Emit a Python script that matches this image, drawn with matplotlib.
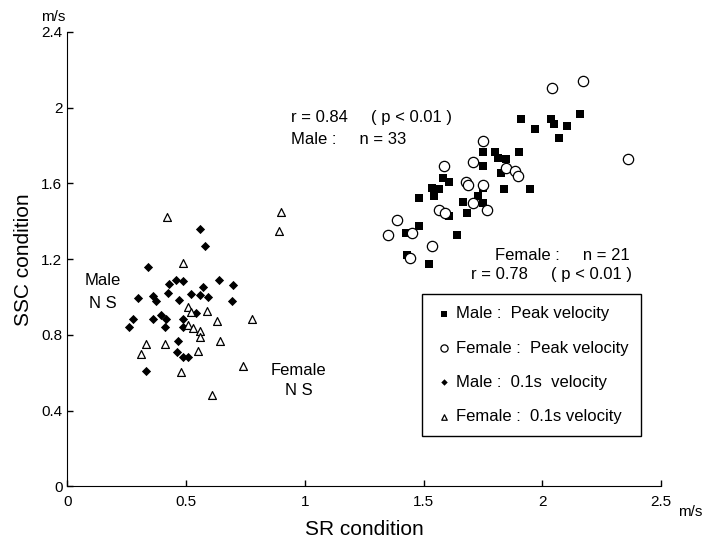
import numpy as np
import matplotlib
matplotlib.use('Agg')
import matplotlib.pyplot as plt

plt.rcParams['font.family'] = ['Liberation Sans', 'DejaVu Sans']

# Male : Peak velocity (SR, SSC)
male_peak_x = [1.910, 1.970, 2.037, 2.051, 2.072, 2.106, 2.160, 1.752, 1.802, 1.900,
               1.815, 1.847, 1.752, 1.827, 1.840, 1.950, 1.584, 1.608, 1.535, 1.567,
               1.545, 1.481, 1.752, 1.731, 1.668, 1.752, 1.682, 1.608, 1.481, 1.427,
               1.640, 1.430, 1.525]
male_peak_y = [1.939, 1.886, 1.939, 1.914, 1.842, 1.905, 1.965, 1.768, 1.768, 1.768,
               1.733, 1.728, 1.694, 1.657, 1.571, 1.571, 1.627, 1.606, 1.574, 1.571,
               1.535, 1.525, 1.574, 1.535, 1.504, 1.498, 1.446, 1.428, 1.377, 1.337,
               1.328, 1.222, 1.173]

# Female : Peak velocity
female_peak_x = [2.040, 2.171, 2.363, 1.752, 1.710, 1.588, 1.848, 1.886, 1.897, 1.679,
                 1.689, 1.752, 1.710, 1.769, 1.566, 1.591, 1.388, 1.451, 1.350, 1.535,
                 1.441]
female_peak_y = [2.102, 2.141, 1.728, 1.824, 1.715, 1.692, 1.683, 1.666, 1.639, 1.609,
                 1.592, 1.592, 1.495, 1.460, 1.460, 1.442, 1.407, 1.337, 1.328, 1.270,
                 1.205]

# Male : 0.1s velocity
male_01_x = [0.559, 0.580, 0.341, 0.458, 0.489, 0.428, 0.640, 0.570, 0.425, 0.520,
             0.559, 0.591, 0.299, 0.360, 0.372, 0.469, 0.541, 0.393, 0.362, 0.416,
             0.278, 0.260, 0.489, 0.489, 0.412, 0.468, 0.461, 0.489, 0.510, 0.332,
             0.697, 0.695]
male_01_y = [1.358, 1.270, 1.160, 1.090, 1.085, 1.068, 1.090, 1.052, 1.020, 1.015,
             1.011, 0.999, 0.997, 1.006, 0.979, 0.985, 0.914, 0.905, 0.883, 0.883,
             0.883, 0.841, 0.883, 0.841, 0.841, 0.768, 0.712, 0.682, 0.682, 0.611,
             1.064, 0.979]

# Female : 0.1s velocity
female_01_x = [0.419, 0.900, 0.892, 0.489, 0.510, 0.520, 0.590, 0.632, 0.779, 0.510,
               0.531, 0.559, 0.559, 0.643, 0.332, 0.412, 0.310, 0.549, 0.741, 0.479,
               0.611]
female_01_y = [1.424, 1.451, 1.351, 1.178, 0.946, 0.920, 0.928, 0.874, 0.883, 0.853,
               0.835, 0.823, 0.791, 0.770, 0.752, 0.752, 0.700, 0.717, 0.638, 0.603,
               0.483]

x_ticks = [0, 0.5, 1, 1.5, 2, 2.5]
x_tick_labels = ['0', '0.5', '1', '1.5', '2', '2.5']
y_ticks = [0, 0.4, 0.8, 1.2, 1.6, 2, 2.4]
y_tick_labels = ['0', '0.4', '0.8', '1.2', '1.6', '2', '2.4']

fig = plt.figure(figsize=(7.03, 5.44), dpi=100)
ax = fig.add_axes([0.0957, 0.1057, 0.8446, 0.8357])

ax.scatter(male_peak_x, male_peak_y, marker='s', s=28, color='black', linewidths=0,
           label='Male :  Peak velocity', zorder=3)
ax.scatter(female_peak_x, female_peak_y, marker='o', s=55, facecolors='white',
           edgecolors='black', linewidths=0.9, label='Female :  Peak velocity', zorder=3)
ax.scatter(male_01_x, male_01_y, marker='D', s=22, color='black', linewidths=0,
           label='Male :  0.1s  velocity', zorder=3)
ax.scatter(female_01_x, female_01_y, marker='^', s=32, facecolors='white',
           edgecolors='black', linewidths=0.9, label='Female :  0.1s velocity', zorder=3)

ax.set_xlim(0, 2.5)
ax.set_ylim(0, 2.4)
ax.set_xticks(x_ticks)
ax.set_xticklabels(x_tick_labels)
ax.set_yticks(y_ticks)
ax.set_yticklabels(y_tick_labels)
ax.tick_params(direction='in', length=4, width=1, labelsize=11, colors='black')
ax.tick_params(axis='x', pad=6)
ax.spines['top'].set_visible(False)
ax.spines['right'].set_visible(False)

ax.set_xlabel('SR condition', fontsize=15, labelpad=8)
ax.set_ylabel('SSC condition', fontsize=15, labelpad=6)

# units
ax.text(-0.11, 2.48, 'm/s', fontsize=11, ha='left', va='center')
ax.text(2.572, -0.135, 'm/s', fontsize=11, ha='left', va='center', clip_on=False)

# annotations
ax.text(0.944, 1.95, 'r = 0.84     ( p < 0.01 )', fontsize=12, va='center')
ax.text(0.944, 1.83, 'Male :     n = 33', fontsize=12, va='center')
ax.text(1.80, 1.22, 'Female :     n = 21', fontsize=12, va='center')
ax.text(1.70, 1.12, 'r = 0.78     ( p < 0.01 )', fontsize=12, va='center')
ax.text(0.15, 1.085, 'Male', fontsize=12, ha='center', va='center')
ax.text(0.15, 0.965, 'N S', fontsize=12, ha='center', va='center')
ax.text(0.975, 0.615, 'Female', fontsize=12, ha='center', va='center')
ax.text(0.975, 0.505, 'N S', fontsize=12, ha='center', va='center')

leg = ax.legend(loc='upper left', bbox_to_anchor=(0.597, 0.4235), borderaxespad=0,
                fontsize=12, markerscale=0.7, handletextpad=0.1, handlelength=1.2,
                labelspacing=1.15, borderpad=0.75, fancybox=False, framealpha=1)
leg.get_frame().set_edgecolor('black')
leg.get_frame().set_linewidth(1)

fig.savefig('out.png', dpi=100)
